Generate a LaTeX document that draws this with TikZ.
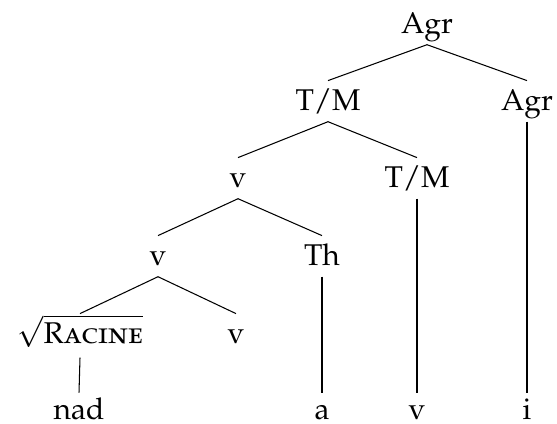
\documentclass[tikz,border=0pt]{standalone}
\usepackage[T1]{fontenc}
\usepackage[sc]{mathpazo}
\tikzset{
  noeud/.style={anchor=base, inner sep=2pt, text height=7.6pt, text depth=1.7pt, font=\normalsize},
  feuille/.style={noeud, text depth=0pt, inner sep=1pt},
  branche/.style={line width=0.35pt, draw=black},
}

\begin{document}
\begin{tikzpicture}[x=0.3333pt, y=-0.3333pt]
    \useasboundingbox (0,0) rectangle (557,423);
    % niveaux de l'arbre
    \node[noeud] (agr) at (427,33) {Agr};
    \node[noeud] (tm) at (328,110) {T/M};
    \node[noeud] (agrb) at (527,110) {Agr};
    \node[noeud] (vc) at (238,187) {v};
    \node[noeud] (tmb) at (417,187) {T/M};
    \node[noeud] (vb) at (158,265) {v};
    \node[noeud] (th) at (322,265) {Th};
    \node[noeud] (rac) at (80,343) {$\sqrt{\textsc{Racine}}$};
    \node[noeud] (va) at (236,343) {v};
    % feuilles
    \node[feuille] (nad) at (79,419) {nad};
    \node[feuille] (a) at (322,419) {a};
    \node[feuille] (vl) at (417,419) {v};
    \node[feuille] (i) at (527,419) {i};
    \draw[branche] (agr.south) -- (tm.north); \draw[branche] (agr.south) -- (agrb.north);
    \draw[branche] (tm.south) -- (vc.north); \draw[branche] (tm.south) -- (tmb.north);
    \draw[branche] (vc.south) -- (vb.north); \draw[branche] (vc.south) -- (th.north);
    \draw[branche] (vb.south) -- (rac.north); \draw[branche] (vb.south) -- (va.north);
    \draw[branche] ([yshift=-1pt]rac.south) -- (nad.north);
    \draw[branche] (th.south) -- (a.north);
    \draw[branche] (tmb.south) -- (vl.north);
    \draw[branche] (agrb.south) -- (i.north);
\end{tikzpicture}
\end{document}
